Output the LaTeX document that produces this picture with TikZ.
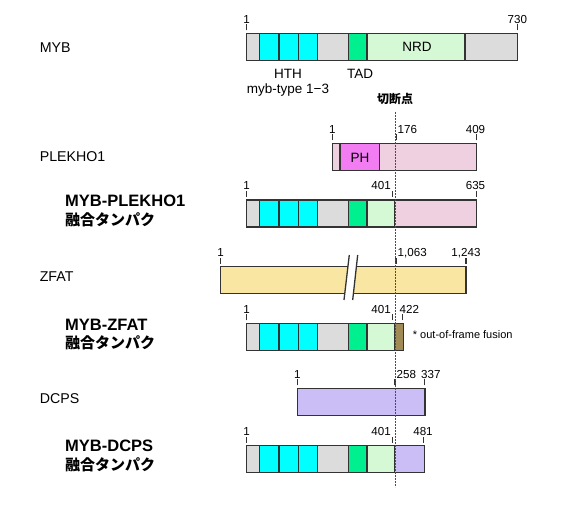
\documentclass[tikz,border=0pt]{standalone}
\usepackage{fontspec}
\setmainfont{Liberation Sans}
\newfontfamily\jp{Noto Sans CJK JP}
\usetikzlibrary{calc}
\definecolor{mgray}{HTML}{DCDCDC}
\definecolor{hth}{HTML}{00FFFF}
\definecolor{tad}{HTML}{00F090}
\definecolor{nrd}{HTML}{D5F8D5}
\definecolor{plek}{HTML}{EED0E1}
\definecolor{ph}{HTML}{F27CF2}
\definecolor{zfat}{HTML}{FAE6A3}
\definecolor{oof}{HTML}{A08A55}
\definecolor{dcps}{HTML}{CBBEF6}
\tikzset{seg/.style={draw=black!80, line width=1.3pt}}
\tikzset{tk/.style={draw=black!80, line width=1.3pt}}
\tikzset{n/.style={font=\fontsize{11.6}{11.6}\selectfont, inner sep=0pt, anchor=base}}
\tikzset{d/.style={font=\fontsize{13.5}{13.5}\selectfont, inner sep=0pt}}
\tikzset{g/.style={font=\fontsize{14.2}{14.2}\selectfont, inner sep=0pt, anchor=west}}
\tikzset{f/.style={font=\bfseries\fontsize{16.5}{16.5}\selectfont, inner sep=0pt, anchor=west}}
\tikzset{j/.style={font=\jp\bfseries\fontsize{15}{15}\selectfont, inner sep=0pt, anchor=west}}
\tikzset{cut/.style={draw=black!70, line width=0.7pt, dash pattern=on 1.6pt off 1.4pt}}
% one box of a bar: x1, x2, top, colour
\newcommand{\segm}[4]{\draw[seg, fill=#4] (#1,#3) rectangle (#2,#3+27);}
% position mark above a bar: x, top
\newcommand{\pmark}[2]{\draw[tk] (#1,#2-3) -- (#1,#2-9);}
% MYB part, shared by MYB and the fusions: top, end of NRD part
\newcommand{\mybhead}[2]{%
  \segm{246.7}{259.7}{#1}{mgray}
  \segm{259.7}{279}{#1}{hth}
  \segm{279}{298.7}{#1}{hth}
  \segm{298.7}{317.5}{#1}{hth}
  \segm{317.5}{348.5}{#1}{mgray}
  \segm{348.5}{367}{#1}{tad}
  \segm{367}{#2}{#1}{nrd}}

\begin{document}
\begin{tikzpicture}[x=1pt, y=-1pt]
  \useasboundingbox[fill=white] (0,0) rectangle (566,508);

  % MYB
  \node[g] (myb) at (39.6,48) {MYB};
  \mybhead{33.3}{465}
  \segm{465}{517.3}{33.3}{mgray}
  \pmark{246.7}{33.3} \pmark{517.3}{33.3}
  \node[n] (myb1) at (246.7,23.3) {1};
  \node[n] (myb730) at (517.3,23.3) {730};
  \node[d] (nrd) at (417,47) {NRD};
  \node[d, anchor=base] (hthlab) at (288,78.3) {HTH};
  \node[d, anchor=base] (mybtype) at (288,94) {myb-type 1−3};
  \node[d, anchor=base] (tadlab) at (360,78.3) {TAD};
  \node[font=\jp\bfseries\fontsize{12}{12}\selectfont, inner sep=0pt] (cutlab) at (395,99) {切断点};

  % PLEKHO1
  \node[g] (plekho1) at (39.6,157) {PLEKHO1};
  \segm{332.3}{340}{143.3}{plek}
  \segm{340}{379.3}{143.3}{ph}
  \segm{379.3}{476.7}{143.3}{plek}
  \node[d] (phlab) at (360,158) {PH};
  \pmark{332.3}{143.3} \pmark{396.7}{143.3} \pmark{476.7}{143.3}
  \node[n] (plek1) at (332.3,133.3) {1};
  \node[n, anchor=base west] (plek176) at (397.5,133.3) {176};
  \node[n] (plek409) at (475.5,133.3) {409};

  % MYB-PLEKHO1
  \node[f] (fus1) at (65,201) {MYB-PLEKHO1};
  \node[j] (fus1jp) at (65,220) {融合タンパク};
  \mybhead{200}{394.5}
  \segm{394.5}{476.7}{200}{plek}
  \pmark{246.7}{200} \pmark{392.5}{200} \pmark{476.7}{200}
  \node[n] (fus1a) at (246.7,190) {1};
  \node[n, anchor=base east] (fus1b) at (391,190) {401};
  \node[n] (fus1c) at (475.5,190) {635};

  % ZFAT, with a break in the bar
  \node[g] (zfat) at (39.6,277) {ZFAT};
  \fill[zfat] (220.7,266.7) rectangle (466,293.7);
  \fill[white] (349.3,255) -- (357.7,255) -- (352.7,300) -- (344,300) -- cycle;
  \draw[seg] (347.9,266.7) -- (220.7,266.7) -- (220.7,293.7) -- (344.8,293.7);
  \draw[seg] (356.3,266.7) -- (466,266.7) -- (466,293.7) -- (353.2,293.7);
  \draw[seg] (349.3,255) -- (344,300);
  \draw[seg] (357.7,255) -- (352.7,300);
  \pmark{220.7}{266.7} \pmark{396}{266.7} \pmark{466}{266.7}
  \node[n] (zfat1) at (220.7,256.7) {1};
  \node[n, anchor=base west] (zfat1063) at (397.5,256.7) {1,063};
  \node[n] (zfat1243) at (466,256.7) {1,243};

  % MYB-ZFAT
  \node[f] (fus2) at (65,325) {MYB-ZFAT};
  \node[j] (fus2jp) at (65,343) {融合タンパク};
  \mybhead{323.3}{394.3}
  \segm{394.3}{403.3}{323.3}{oof}
  \pmark{246.7}{323.3} \pmark{392.5}{323.3} \pmark{402.3}{323.3}
  \node[n] (fus2a) at (246.7,313.3) {1};
  \node[n, anchor=base east] (fus2b) at (391,313.3) {401};
  \node[n, anchor=base west] (fus2c) at (399.5,313.3) {422};
  \node[font=\fontsize{11}{11}\selectfont, inner sep=0pt, anchor=west] (oofnote) at (412.7,335) {* out-of-frame fusion};

  % DCPS
  \node[g] (dcps) at (39.6,399) {DCPS};
  \segm{297.3}{425}{388.3}{dcps}
  \pmark{297.3}{388.3} \pmark{395}{388.3} \pmark{424.3}{388.3}
  \node[n] (dcps1) at (297.3,378.3) {1};
  \node[n, anchor=base west] (dcps258) at (396.5,378.3) {258};
  \node[n, anchor=base west] (dcps337) at (421,378.3) {337};

  % MYB-DCPS
  \node[f] (fus3) at (65,446) {MYB-DCPS};
  \node[j] (fus3jp) at (65,464.5) {融合タンパク};
  \mybhead{445.5}{394.3}
  \segm{394.3}{424.3}{445.5}{dcps}
  \pmark{246.7}{445.5} \pmark{392.5}{445.5} \pmark{423.3}{445.5}
  \node[n] (fus3a) at (246.7,435.5) {1};
  \node[n, anchor=base east] (fus3b) at (391,435.5) {401};
  \node[n] (fus3c) at (423,435.5) {481};

  % break point
  \coordinate (cuttop) at (395,112);
  \coordinate (cutbot) at (395,487);
  \draw[cut] (cuttop) -- (cutbot);
\end{tikzpicture}
\end{document}
